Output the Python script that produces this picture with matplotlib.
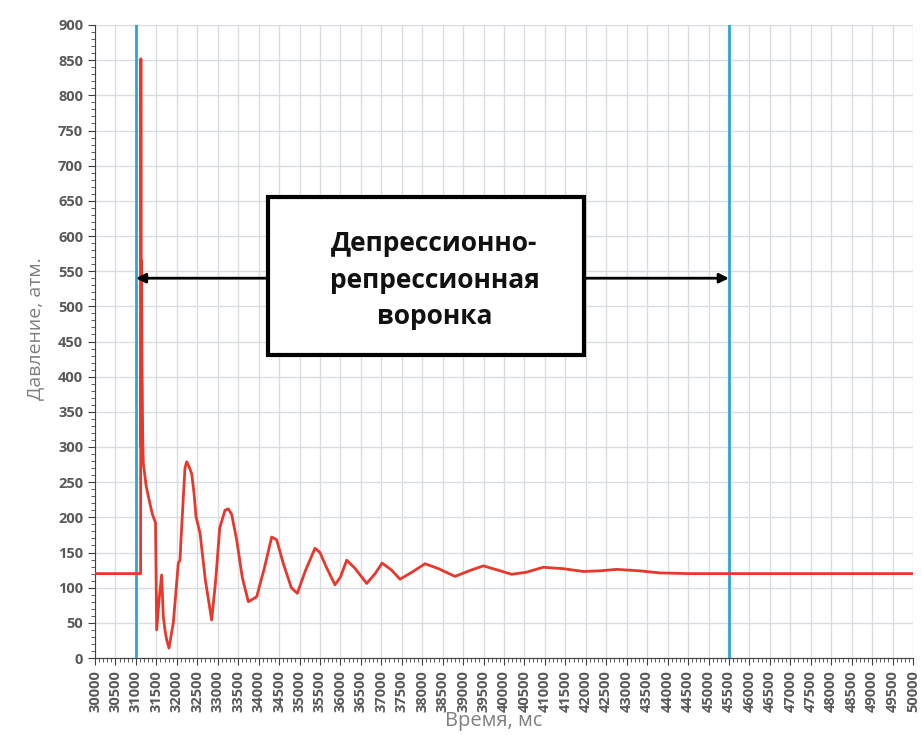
import matplotlib
matplotlib.use('Agg')
import matplotlib.pyplot as plt
from matplotlib.patches import Rectangle
from matplotlib.ticker import MultipleLocator

# Данные
time_ms = [30000, 31115, 31122, 31130, 31137, 31150, 31165, 31181, 31250, 31303,
           31400, 31480, 31508, 31570, 31630, 31670, 31711, 31752, 31809, 31915,
           32037, 32078, 32102, 32200, 32242, 32300, 32364, 32420, 32470, 32567,
           32700, 32853, 32950, 33050, 33178, 33260, 33342, 33464, 33600, 33749,
           33953, 34150, 34320, 34442, 34600, 34800, 34946, 35150, 35379, 35500,
           35650, 35868, 36000, 36154, 36350, 36643, 36850, 37020, 37250, 37457,
           37750, 38068, 38400, 38802, 39150, 39494, 39850, 40187, 40550, 40960,
           41450, 41939, 42350, 42754, 43300, 43814, 44500, 50000]
pressure = [120, 120, 852, 300, 565, 420, 320, 277, 245, 230,
            205, 192, 40, 85, 118, 59, 40, 26, 14, 50,
            135, 139, 168, 270, 279, 272, 262, 235, 201, 178,
            110, 54, 110, 185, 210, 212, 204, 168, 115, 80,
            87, 130, 172, 168, 135, 100, 92, 125, 156, 150,
            130, 104, 115, 139, 128, 106, 120, 135, 125, 112,
            122, 134, 127, 116, 124, 131, 125, 119, 122, 129,
            127, 123, 124, 126, 124, 121, 120, 120]

funnel_start = 31000
funnel_end = 45500
arrow_level = 540
box_x = [34230, 41960]
box_y = [431, 655]
box_text = 'Депрессионно-\nрепрессионная\nворонка'

plt.rcParams['font.family'] = ['Open Sans', 'DejaVu Sans']

fig = plt.figure(figsize=(9.22, 7.35), dpi=100)
ax = fig.add_axes([95/922, 77/735, 818/922, 633/735])

ax.plot(time_ms, pressure, color='#e8372c', linewidth=2, zorder=4)
ax.axvline(funnel_start, color='#2aa7d9', linewidth=2, zorder=3)
ax.axvline(funnel_end, color='#2aa7d9', linewidth=2, zorder=3)

ax.annotate('', xy=(funnel_start, arrow_level), xytext=(funnel_end, arrow_level),
            arrowprops=dict(arrowstyle='<|-|>', color='black', lw=2,
                            mutation_scale=14, shrinkA=0, shrinkB=0), zorder=5)

ax.add_patch(Rectangle((box_x[0], box_y[0]), box_x[1] - box_x[0], box_y[1] - box_y[0],
                       facecolor='white', edgecolor='black', linewidth=3, zorder=6))
ax.text(38300, 537, box_text,
        ha='center', va='center', fontsize=19, fontweight='bold', color='#111111',
        linespacing=1.45, zorder=7)

ax.set_xlim(30000, 50000)
ax.set_ylim(0, 900)
ax.xaxis.set_major_locator(MultipleLocator(500))
ax.xaxis.set_minor_locator(MultipleLocator(100))
ax.yaxis.set_major_locator(MultipleLocator(50))
ax.yaxis.set_minor_locator(MultipleLocator(10))

ax.grid(True, which='major', color='#d9dde2', linewidth=1)
ax.set_axisbelow(True)
for s in ['top', 'right']:
    ax.spines[s].set_visible(False)
for s in ['left', 'bottom']:
    ax.spines[s].set_color('#404040')

ax.tick_params(axis='both', which='major', direction='out', length=5, color='#404040',
               labelcolor='#595959', labelsize=10.5)
ax.tick_params(axis='both', which='minor', direction='out', length=3, color='#404040')
ax.tick_params(axis='x', labelrotation=90)
for lab in ax.get_xticklabels() + ax.get_yticklabels():
    lab.set_fontweight('bold')

ax.set_ylabel('Давление, атм.', fontsize=14, color='#7f7f7f')
ax.yaxis.set_label_coords(-0.073, 0.52)
ax.yaxis.label.set_va('center')
ax.set_xlabel('Время, мс', fontsize=14.5, color='#7f7f7f')
ax.xaxis.set_label_coords(0.487, -0.1)
ax.xaxis.label.set_va('center')

fig.savefig('out.png', dpi=100)
